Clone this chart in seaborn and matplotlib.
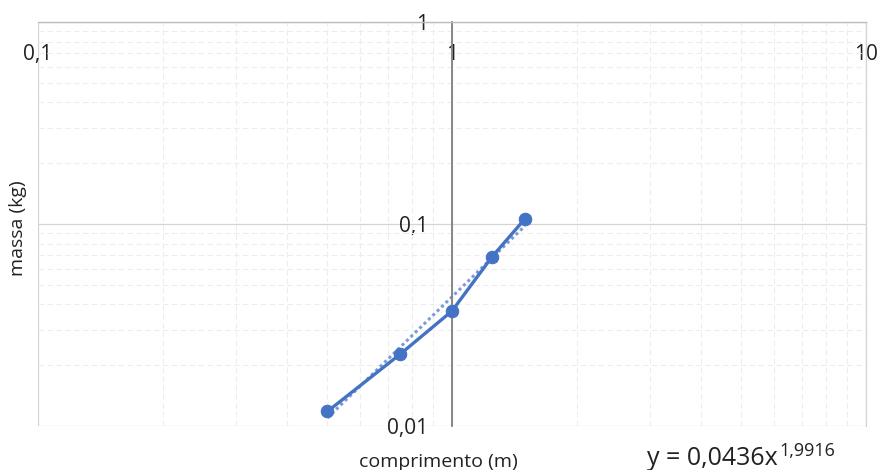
import numpy as np
import pandas as pd
import matplotlib
matplotlib.use("Agg")
import matplotlib.pyplot as plt
import seaborn as sns
from matplotlib.ticker import LogLocator, NullFormatter

# data
comprimento = [0.5, 0.75, 1.0, 1.25, 1.5]
massa = [0.0118, 0.0227, 0.0371, 0.0689, 0.106]
x_ticks = [0.1, 1, 10]
x_tick_labels = ["0,1", "1", "10"]
y_ticks = [0.01, 0.1, 1]
y_tick_labels = ["0,01", "0,1", "1"]
coef_a = 0.0436
coef_b = 1.9916
eq_base = "y = 0,0436x"
eq_exp = "1,9916"

sns.set_theme(style="white")
plt.rcParams["font.family"] = ["Open Sans", "DejaVu Sans"]

fig = plt.figure(figsize=(8.9, 4.7), dpi=100)
ax = fig.add_axes([38 / 890, 1 - 426 / 470, (866 - 38) / 890, (426 - 22) / 470])

df = pd.DataFrame({"comprimento": comprimento, "massa": massa})
blue = "#4472C4"

# trendline (power fit)
xt = np.linspace(min(comprimento), max(comprimento), 50)
yt = coef_a * xt ** coef_b
ax.plot(xt, yt, linestyle=(0, (1, 1)), color="#7f9bd6", linewidth=2.2, zorder=2)

sns.lineplot(data=df, x="comprimento", y="massa", ax=ax, color=blue,
             linewidth=2.4, marker="o", markersize=9, markeredgecolor=blue,
             zorder=3)

ax.set_xscale("log")
ax.set_yscale("log")
ax.set_xlim(0.1, 10)
ax.set_ylim(0.01, 1)

ax.set_xticks(x_ticks, labels=x_tick_labels)
ax.set_yticks(y_ticks, labels=y_tick_labels)
ax.xaxis.set_minor_locator(LogLocator(base=10, subs=np.arange(2, 10)))
ax.yaxis.set_minor_locator(LogLocator(base=10, subs=np.arange(2, 10)))
ax.xaxis.set_minor_formatter(NullFormatter())
ax.yaxis.set_minor_formatter(NullFormatter())

ax.grid(which="major", color="#d4d4d4", linewidth=0.9)
ax.grid(which="minor", color="#ededed", linewidth=0.8, linestyle=(0, (5, 3)))
ax.set_axisbelow(True)

# axes crossing: vertical axis at x=1, horizontal axis at y=1
ax.spines["left"].set_position(("data", 1))
ax.spines["left"].set_color("#808080")
ax.spines["left"].set_linewidth(1.3)
ax.spines["bottom"].set_position(("data", 1))
ax.spines["bottom"].set_color("#bdbdbd")
ax.spines["bottom"].set_linewidth(1.0)
ax.spines["top"].set_visible(False)
ax.spines["right"].set_color("#d4d4d4")
ax.spines["right"].set_linewidth(0.9)

ax.tick_params(axis="x", which="both", length=0, pad=16, labelsize=15,
               labelcolor="#222222")
ax.tick_params(axis="y", which="both", length=0, pad=17, labelsize=15,
               labelcolor="#222222")

ax.set_xlabel("comprimento (m)", fontsize=14, color="#222222", va="center")
ax.set_ylabel("massa (kg)", fontsize=14, color="#222222", va="center")
ax.xaxis.set_label_coords(0.484, -0.089)
ax.yaxis.set_label_coords(-0.0236, 0.49)

t = fig.text(647 / 890, 1 - 465 / 470, eq_base, fontsize=18, color="#222222",
             ha="left", va="baseline")
ax.annotate(eq_exp, xy=(1.0, 0.62), xycoords=t, xytext=(1, 0),
            textcoords="offset points", ha="left", va="baseline",
            fontsize=13, color="#222222", annotation_clip=False)

fig.savefig("out.png", dpi=100)
